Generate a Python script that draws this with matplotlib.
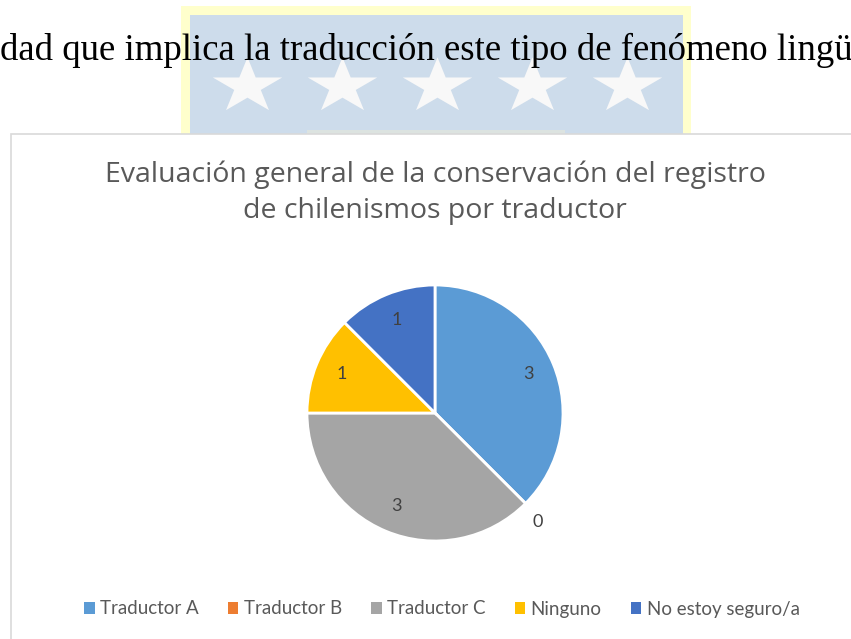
import numpy as np
import matplotlib.pyplot as plt
from matplotlib.patches import Rectangle, Patch

# data
categories = ["Traductor A", "Traductor B", "Traductor C", "Ninguno", "No estoy seguro/a"]
values = [3, 0, 3, 1, 1]
colors = ["#5B9BD5", "#ED7D31", "#A5A5A5", "#FFC000", "#4472C4"]
title_lines = ["Evaluación general de la conservación del registro",
               "de chilenismos por traductor"]
body_text = "dad que implica la traducción este tipo de fenómeno lingü"
star_x = [247, 342, 437, 532, 627]

W, H = 851, 639
fig = plt.figure(figsize=(W / 100, H / 100), dpi=100, facecolor='w')

# page background in pixel coordinates
bg = fig.add_axes([0, 0, 1, 1])
bg.set_xlim(0, W)
bg.set_ylim(H, 0)
bg.axis('off')

# watermark behind the text: flattened five-point stars
ang = np.pi / 2 + np.arange(10) * np.pi / 5
rad = np.where(np.arange(10) % 2 == 0, 1.0, 0.382)
star = np.column_stack([rad * np.cos(ang), 0.8 * rad * np.sin(ang)])

bg.add_patch(Rectangle((181, 6), 510, 140, facecolor='#FFFFCC', edgecolor='none', zorder=1))
bg.add_patch(Rectangle((190, 15), 493, 130, facecolor='#CDDCEB', edgecolor='none', zorder=2))
bg.add_patch(Rectangle((307, 130), 258, 4, facecolor='#DCE3E0', edgecolor='none', zorder=2))
bg.plot(star_x, [86] * len(star_x), ls='none', marker=star, markersize=50,
        color='#F8F8F8', markeredgewidth=0, zorder=3)

bg.text(0, 60, body_text, fontsize=26.5, family='Liberation Serif', color='black',
        ha='left', va='baseline', zorder=5)

# chart area
bg.add_patch(Rectangle((10.5, 133.5), 900, 600, facecolor='white', edgecolor='#D9D9D9',
                       lw=1.2, zorder=6))
for i, line in enumerate(title_lines):
    bg.text(435, 182 + 36 * i, line, fontsize=20.5, family='Open Sans', color='#595959',
            ha='center', va='baseline', zorder=7)

# pie
cx, cy, r = 435, 413, 128
half = 1.25 * r
ax = fig.add_axes([(cx - half) / W, (H - cy - half) / H, 2 * half / W, 2 * half / H])
total = sum(values)
wedges, texts, autotexts = ax.pie(
    values, colors=colors, startangle=90, counterclock=False,
    autopct=lambda p: "%d" % round(p * total / 100.0), pctdistance=0.79,
    wedgeprops=dict(edgecolor='white', linewidth=2),
    textprops=dict(fontsize=13, family='Lato', color='#404040'))
for v, t in zip(values, autotexts):
    if v == 0:
        x, y = t.get_position()
        t.set_position((x * 1.13 / 0.79, y * 1.2 / 0.79))
ax.set_xlim(-1.25, 1.25)
ax.set_ylim(-1.25, 1.25)
ax.set_aspect('equal')

handles = [Patch(facecolor=c, edgecolor='none') for c in colors]
leg = fig.legend(handles, categories, loc='center', bbox_to_anchor=(442 / W, 1 - 609 / H),
                 ncol=5, frameon=False, handlelength=0.55, handleheight=0.55,
                 handletextpad=0.3, columnspacing=1.55,
                 prop=dict(family='Lato', size=13.5))
for t in leg.get_texts():
    t.set_color('#595959')

plt.savefig("out.png", dpi=100)
